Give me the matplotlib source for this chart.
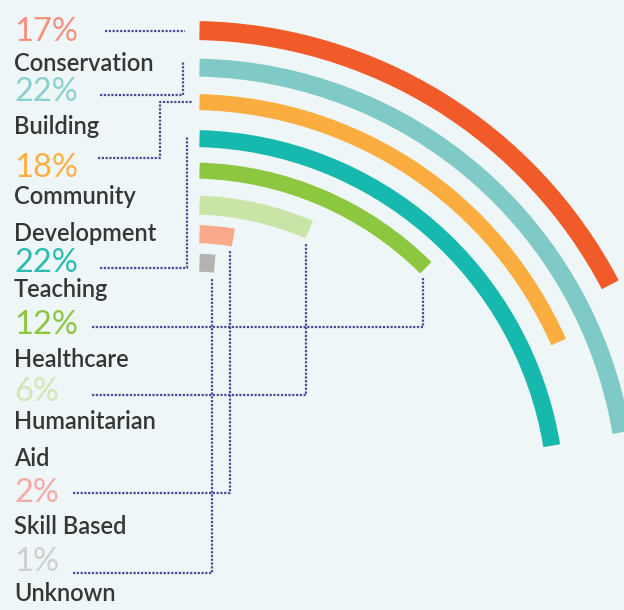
import numpy as np
import matplotlib
matplotlib.use("Agg")
import matplotlib.pyplot as plt

# figure size in pixels
W, H = 624, 610

categories = ["Conservation", "Building", "Community\nDevelopment", "Teaching",
              "Healthcare", "Humanitarian\nAid", "Skill Based", "Unknown"]
percentages = [17, 22, 18, 22, 12, 6, 2, 1]

arc_colors = ["#f15a29", "#7fcac7", "#fbad3f", "#17b8ad",
              "#8dc63f", "#cae3a7", "#f9aa8a", "#b3b3b3"]
pct_colors = ["#f4937b", "#8ad1cd", "#fbb044", "#2bbcb1",
              "#8dc63f", "#d1e7b4", "#f6a9a6", "#cfcfcf"]
bg = "#eef6f8"
lead_color = "#4b4b96"

# arc layout (pixels): common centre, radius of each band, band width
cx, cy = 190, 505
r_mid = np.array([474.5, 437.5, 403, 366.5, 334.5, 300, 271, 242.5])
band = np.array([19, 18, 16, 17, 16, 19, 18, 18])
start_x = 199.5
deg_per_pct = 3.6

# text layout (pixel baselines, y down)
pct_base = [41, 101, 177, 272, 334, 401, 502, 571]
lab_base = [71, 134, 204, 297, 367, 429, 534, 601]
line_step = 37

fig = plt.figure(figsize=(W / 100, H / 100), dpi=100, facecolor=bg)

# polar axes whose radius unit is one pixel
R = 520
pax = fig.add_axes([(cx - R) / W, (H - cy - R) / H, 2 * R / W, 2 * R / H],
                   projection="polar")
pax.set_theta_zero_location("N")
pax.set_theta_direction(-1)

theta0 = np.arcsin((start_x - cx) / r_mid)
sweep = np.radians(np.array(percentages) * deg_per_pct)
pax.bar(theta0, band, width=sweep, bottom=r_mid - band / 2, align="edge",
        color=arc_colors, edgecolor="none")
pax.set_ylim(0, R)
pax.axis("off")

# overlay in pixel coordinates for labels and leader lines
ax = fig.add_axes([0, 0, 1, 1])
ax.set_xlim(0, W)
ax.set_ylim(H, 0)
ax.axis("off")
ax.patch.set_alpha(0)

for i, p in enumerate(percentages):
    ax.text(14, pct_base[i], f"{p}%", fontsize=23.5, color=pct_colors[i],
            family="Lato", weight="normal", va="baseline", ha="left")
    for j, line in enumerate(categories[i].split("\n")):
        ax.text(14, lab_base[i] + j * line_step, line, fontsize=17,
                color="#363636", family="Lato", weight="semibold",
                va="baseline", ha="left")

# arc end points
th_end = theta0 + sweep
end_x = cx + r_mid * np.sin(th_end) - 3
end_y = cy - (r_mid - band / 2) * np.cos(th_end) + 5
top_y = cy - r_mid

leaders = [
    [(105, 31), (start_x - 15, 31)],
    [(100, 95), (183, 95), (183, top_y[1] - 6)],
    [(98, 158), (160, 158), (160, top_y[2]), (193, top_y[2])],
    [(100, 268), (187, 268), (187, top_y[3] - 3)],
    [(92, 327), (end_x[4], 327), (end_x[4], end_y[4])],
    [(92, 395), (end_x[5], 395), (end_x[5], end_y[5])],
    [(73, 493), (end_x[6], 493), (end_x[6], end_y[6])],
    [(73, 573), (end_x[7], 573), (end_x[7], end_y[7])],
]
for pts in leaders:
    xs, ys = zip(*pts)
    ax.plot(xs, ys, color=lead_color, lw=1.6, linestyle=(0, (1, 0.7)),
            solid_joinstyle="miter")

fig.savefig("out.png", dpi=100, facecolor=bg)
